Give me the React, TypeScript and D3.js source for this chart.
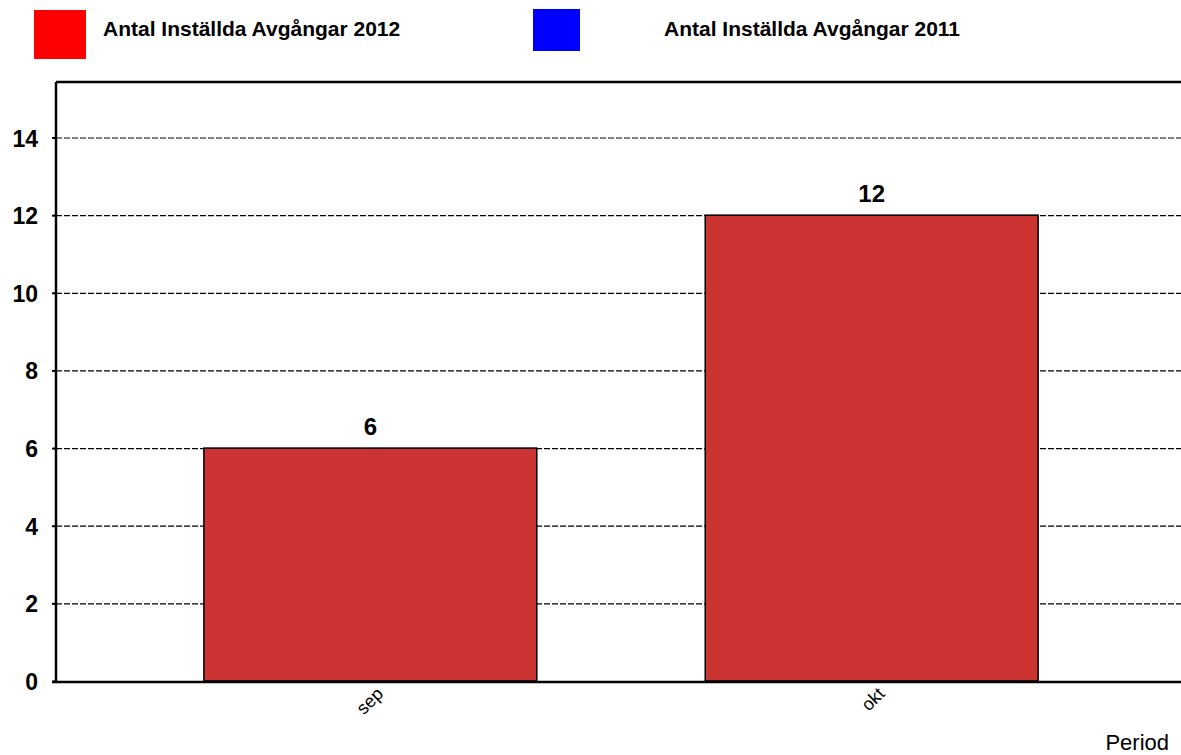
import React, { useRef, useEffect } from "react";
import * as d3 from "d3";

const categories = ["sep", "okt"];
const values2012 = [6, 12];
const yTicks = [0, 2, 4, 6, 8, 10, 12, 14];
const legendLabels = ["Antal Inställda Avgångar 2012", "Antal Inställda Avgångar 2011"];
const legendColors = ["#ff0000", "#0000ff"];

const Chart = {
  width: 1181,
  height: 755,
  left: 56,
  top: 82,
  bottom: 681,
  right: 1186,
};

const FONT = "Liberation Sans, Arial, sans-serif";

const App = () => {
  const ref = useRef<SVGSVGElement>(null);

  useEffect(() => {
    const svg = d3.select(ref.current);
    svg.selectAll("*").remove();

    const y = d3.scaleLinear().domain([0, 15.43]).range([Chart.bottom, Chart.top]);
    const x = d3
      .scaleBand()
      .domain(categories)
      .range([Chart.left, Chart.right])
      .paddingInner(0.336)
      .paddingOuter(0.295);

    // legend
    const legendBoxes = [
      { x: 34, y: 10, w: 52, h: 49, tx: 103 },
      { x: 533, y: 9, w: 47, h: 42, tx: 664 },
    ];
    legendBoxes.forEach((b, i) => {
      svg.append("rect").attr("x", b.x).attr("y", b.y).attr("width", b.w).attr("height", b.h).attr("fill", legendColors[i]);
      svg
        .append("text")
        .attr("x", b.tx)
        .attr("y", 36)
        .attr("font-size", 21)
        .attr("font-weight", "bold")
        .attr("font-family", FONT)
        .text(legendLabels[i]);
    });

    // gridlines
    svg
      .selectAll(".grid")
      .data(yTicks.filter((t) => t > 0))
      .enter()
      .append("line")
      .attr("x1", Chart.left)
      .attr("x2", Chart.width)
      .attr("y1", (d) => y(d) + 0.5)
      .attr("y2", (d) => y(d) + 0.5)
      .attr("stroke", "#000")
      .attr("stroke-width", 1.2)
      .attr("stroke-dasharray", "6,2");

    // bars
    svg
      .selectAll(".bar")
      .data(values2012)
      .enter()
      .append("rect")
      .attr("x", (_, i) => x(categories[i])!)
      .attr("y", (d) => y(d))
      .attr("width", x.bandwidth())
      .attr("height", (d) => Chart.bottom - y(d))
      .attr("fill", "#cc3333")
      .attr("stroke", "#000")
      .attr("stroke-width", 1.5);

    // value labels
    svg
      .selectAll(".val")
      .data(values2012)
      .enter()
      .append("text")
      .attr("x", (_, i) => x(categories[i])! + x.bandwidth() / 2)
      .attr("y", (d) => y(d) - 13)
      .attr("text-anchor", "middle")
      .attr("font-size", 24)
      .attr("font-weight", "bold")
      .attr("font-family", FONT)
      .text((d) => d);

    // frame: left axis, top line, bottom axis
    svg.append("line").attr("x1", Chart.left).attr("x2", Chart.left).attr("y1", Chart.top).attr("y2", Chart.bottom + 1).attr("stroke", "#000").attr("stroke-width", 2.5);
    svg.append("line").attr("x1", Chart.left).attr("x2", Chart.width).attr("y1", Chart.top).attr("y2", Chart.top).attr("stroke", "#000").attr("stroke-width", 2.5);
    svg.append("line").attr("x1", Chart.left - 4).attr("x2", Chart.width).attr("y1", Chart.bottom + 1).attr("y2", Chart.bottom + 1).attr("stroke", "#000").attr("stroke-width", 2.5);

    // y ticks & labels
    const yg = svg.append("g");
    yTicks.forEach((t) => {
      yg.append("line").attr("x1", Chart.left - 4).attr("x2", Chart.left).attr("y1", y(t) + 0.5).attr("y2", y(t) + 0.5).attr("stroke", "#000").attr("stroke-width", 2);
      yg
        .append("text")
        .attr("x", 38)
        .attr("y", y(t) + 9)
        .attr("text-anchor", "end")
        .attr("font-size", 23)
        .attr("font-weight", "bold")
        .attr("font-family", FONT)
        .text(t);
    });

    // x labels
    categories.forEach((c) => {
      const cx = x(c)! + x.bandwidth() / 2;
      svg
        .append("text")
        .attr("transform", `translate(${cx + 14},${Chart.bottom + 14}) rotate(-45)`)
        .attr("text-anchor", "end")
        .attr("font-size", 18)
        .attr("font-family", FONT)
        .text(c);
    });

    svg
      .append("text")
      .attr("x", 1169)
      .attr("y", 750)
      .attr("text-anchor", "end")
      .attr("font-size", 22)
      .attr("font-family", FONT)
      .text("Period");
  }, []);

  return (
    <div style={{ position: "absolute", left: 0, top: 0 }}>
      <svg ref={ref} width={Chart.width} height={Chart.height} style={{ display: "block", background: "#fff" }}></svg>
    </div>
  );
};

export default App;
